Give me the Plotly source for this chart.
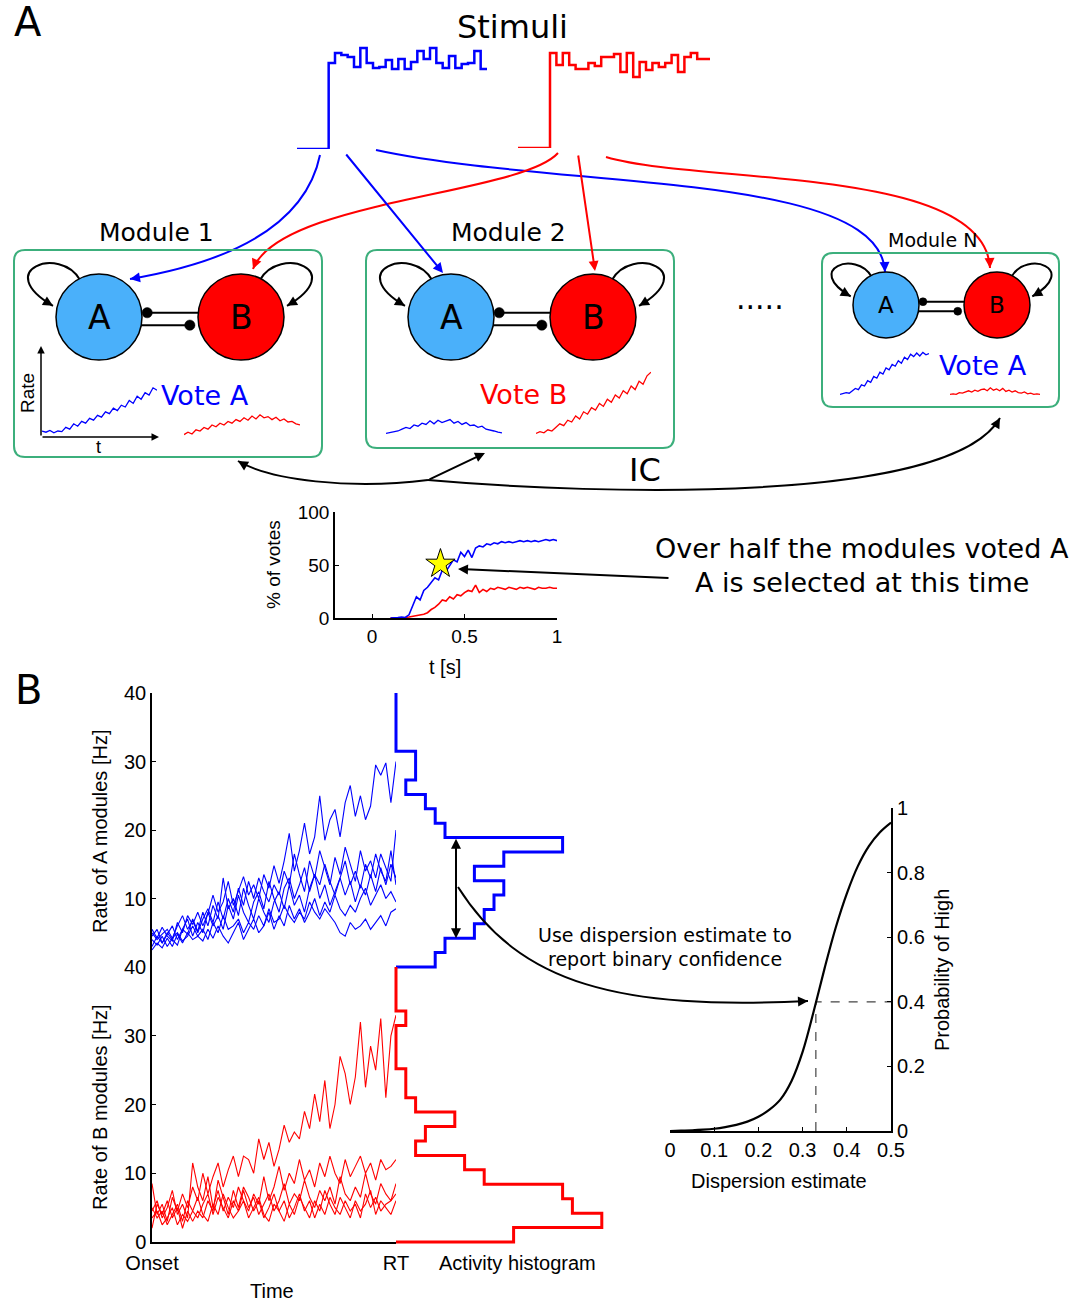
import numpy as np
import plotly.graph_objects as go

# ---------------- data ----------------
# stimulus intensities (arbitrary units), one value per time step after onset
stim_a_levels = [86, 96, 94, 92, 82, 101, 86, 81, 82, 89, 80, 90, 80, 87, 98, 90, 101, 86, 81, 93, 81, 85, 86, 98, 80]
stim_b_levels = [95, 83, 95, 83, 79, 79, 85, 82, 91, 91, 94, 76, 95, 71, 86, 78, 85, 81, 85, 93, 76, 91, 95, 89, 89]

# schematic module rate traces (arbitrary units)
m1_rate_a = [1.0, 0.8, 1.1, 0.7, 1.0, 0.9, 1.6, 1.3, 2.2, 1.8, 2.6, 2.3, 3.1, 2.8, 3.6, 3.3, 4.2, 3.9, 4.8, 4.4,
             5.3, 5.0, 6.1, 5.6, 6.8, 6.3, 7.4, 7.0, 8.2, 7.8]
m1_rate_b = [0.4, 0.8, 0.5, 1.2, 1.0, 1.6, 1.3, 2.0, 1.7, 2.3, 2.0, 2.6, 2.3, 2.9, 2.6, 3.2, 2.8, 3.5, 3.0, 3.7,
             3.2, 3.4, 2.9, 3.3, 2.7, 3.0, 2.5, 2.6, 2.2, 2.0]
m2_rate_a = [0.6, 0.7, 0.9, 1.0, 1.3, 1.6, 1.4, 2.0, 1.8, 2.3, 2.1, 2.7, 2.2, 2.8, 2.4, 2.6, 2.9, 2.3, 2.6, 2.1,
             2.4, 1.9, 2.0, 1.6, 1.8, 1.3, 1.2, 1.0, 0.8, 0.7]
m2_rate_b = [0.6, 0.9, 0.7, 1.2, 1.0, 1.6, 2.2, 1.9, 2.8, 2.5, 3.5, 3.0, 4.2, 3.8, 4.9, 4.5, 5.6, 5.1, 6.3, 5.8,
             7.0, 6.5, 7.7, 7.2, 8.5, 7.9, 9.3, 8.8, 10.2, 10.8]
mn_rate_a = [0.6, 0.7, 0.9, 0.8, 1.2, 1.6, 1.4, 2.2, 2.0, 2.9, 2.6, 3.6, 3.3, 4.3, 4.0, 5.0, 4.7, 5.6, 5.3, 6.2,
             5.8, 6.8, 6.4, 7.3, 6.9, 7.5, 7.0, 7.6, 7.2, 7.4]
mn_rate_b = [0.6, 0.7, 0.6, 0.9, 0.8, 1.0, 1.2, 1.0, 1.3, 1.1, 1.4, 1.5, 1.2, 1.7, 1.3, 1.5, 1.2, 1.6, 1.1, 1.3,
             1.0, 1.2, 0.9, 0.8, 1.0, 0.7, 0.8, 0.6, 0.7, 0.6]

# % of votes (t from 0.1 s to 1.0 s)
votes_a = [0, 0, 0.5, 1, 0.5, 3, 12, 20, 17, 26, 29, 33, 38, 36, 45, 44, 49, 55, 53, 62, 58, 64, 57, 66, 68,
           67, 70, 69, 71, 70, 72, 71, 72, 71, 72, 73, 72, 73, 72, 73, 72, 73, 74, 73, 74, 73]
votes_b = [0, 0, 0, 0, 0.5, 1, 1.5, 2, 3, 3.5, 5, 8, 10, 13, 17, 16, 20, 18, 22, 21, 24, 26, 25, 31, 24,
           27, 25, 28, 27, 29, 28, 27, 29, 28, 27, 29, 28, 29, 28, 27, 29, 28, 28, 29, 28, 28]
votes_t_start, votes_t_end = 0.1, 1.0
selection_time, selection_pct = 0.37, 51

# panel B: rates of A modules [Hz], Onset -> RT
rate_a1 = [5.5, 4.2, 5.8, 4.5, 3.8, 6.5, 5.0, 7.5, 6.2, 8.0, 6.0, 7.8, 10.5, 8.0, 9.5, 12.5, 9.0, 11.0, 13.2, 10.5,
           12.0, 10.0, 13.5, 11.5, 14.8, 12.2, 15.5, 19.5, 14.0, 17.0, 21.0, 16.5, 19.0, 25.0, 18.5, 21.5, 23.0,
           19.0, 24.0, 26.5, 22.0, 25.0, 21.5, 23.5, 29.5, 28.0, 29.8, 24.0, 30.0]
rate_a2 = [5.0, 4.0, 4.8, 5.5, 4.2, 6.0, 7.5, 5.5, 6.8, 5.0, 7.0, 8.5, 6.5, 9.5, 7.0, 10.0, 8.0, 11.5, 9.0, 12.5,
           10.0, 13.0, 11.0, 9.5, 12.0, 10.5, 14.0, 12.0, 16.5, 13.5, 11.0, 15.5, 13.0, 17.0, 14.5, 12.0, 16.0,
           13.5, 17.5, 15.0, 12.5, 17.0, 14.0, 15.5, 13.0, 16.5, 14.5, 12.5, 20.0]
rate_a3 = [4.5, 5.5, 3.5, 4.8, 6.0, 4.0, 5.5, 7.0, 4.5, 6.5, 5.0, 8.0, 6.0, 7.5, 5.5, 9.0, 7.0, 10.5, 8.0, 6.5,
           9.5, 11.0, 8.5, 12.5, 10.0, 8.0, 11.5, 13.0, 10.0, 12.0, 14.5, 11.0, 13.5, 12.0, 15.0, 12.5, 10.5,
           13.0, 15.5, 12.0, 14.0, 11.5, 15.0, 13.0, 16.5, 14.0, 12.5, 17.0, 12.0]
rate_a4 = [4.0, 3.2, 4.5, 3.0, 4.2, 5.0, 3.8, 4.5, 6.0, 4.5, 5.5, 4.0, 6.5, 5.0, 7.5, 5.5, 6.0, 7.0, 5.0, 6.5,
           5.5, 7.5, 6.0, 8.5, 6.5, 7.0, 9.0, 7.5, 6.5, 8.0, 7.0, 9.5, 8.0, 7.0, 8.5, 7.5, 6.5, 5.0, 4.5, 6.5,
           5.5, 6.0, 7.0, 5.5, 6.5, 7.5, 6.0, 8.0, 8.5]
rate_a5 = [3.0, 4.5, 3.5, 5.0, 4.0, 3.2, 5.5, 4.8, 7.0, 5.2, 8.0, 6.0, 9.0, 7.0, 13.0, 8.5, 10.0, 7.5, 11.5, 9.0,
           7.0, 10.0, 8.0, 6.5, 9.5, 11.0, 8.5, 12.0, 9.0, 10.5, 8.0, 11.5, 13.5, 10.0, 12.0, 9.0, 11.0, 13.0,
           10.5, 12.5, 9.5, 12.0, 10.5, 13.5, 11.0, 14.5, 12.0, 15.0, 13.0]
rate_a6 = [2.5, 3.5, 2.8, 4.2, 3.0, 4.8, 3.5, 5.0, 4.0, 4.5, 3.8, 5.5, 4.2, 6.0, 4.5, 3.5, 5.0, 6.5, 4.0, 5.5,
           7.0, 5.0, 6.0, 8.0, 5.5, 7.5, 6.0, 9.0, 7.0, 8.5, 6.5, 8.0, 10.0, 7.5, 9.5, 8.0, 10.5, 8.5, 7.5, 9.0,
           8.0, 10.0, 11.5, 9.0, 10.5, 12.0, 10.0, 11.0, 9.5]

# panel B: rates of B modules [Hz]
rate_b1 = [8.5, 4.0, 5.5, 3.0, 6.5, 4.5, 7.0, 5.0, 8.0, 6.0, 10.0, 7.0, 9.5, 11.5, 8.0, 10.5, 12.5, 9.5, 12.5,
           12.0, 10.0, 15.0, 12.0, 14.5, 11.0, 13.5, 17.0, 14.5, 16.0, 15.0, 19.0, 16.5, 21.5, 17.5, 23.5, 16.5,
           20.0, 27.0, 24.5, 20.0, 24.0, 32.0, 22.5, 28.5, 25.0, 32.5, 21.0, 30.0, 33.0]
rate_b2 = [4.5, 6.0, 3.5, 5.0, 7.5, 4.0, 5.5, 3.5, 11.5, 8.0, 6.0, 9.5, 5.0, 7.5, 4.5, 6.5, 5.0, 8.0, 6.0, 4.5,
           7.0, 5.5, 9.5, 6.0, 8.0, 11.0, 7.5, 10.0, 8.5, 12.0, 9.0, 10.5, 8.0, 11.5, 9.5, 12.5, 10.0, 8.5, 12.0,
           9.5, 11.0, 12.5, 10.0, 11.5, 9.0, 12.0, 10.5, 11.0, 12.0]
rate_b3 = [5.0, 3.5, 4.5, 2.5, 4.0, 5.5, 3.0, 6.0, 4.5, 3.5, 5.5, 7.0, 4.0, 6.5, 5.0, 3.5, 6.0, 4.5, 7.5, 5.0,
           6.5, 4.0, 5.5, 7.0, 4.5, 6.0, 8.5, 5.5, 7.0, 6.0, 9.0, 6.5, 5.0, 7.5, 6.0, 8.0, 5.5, 9.5, 7.0, 6.0,
           8.0, 6.5, 10.0, 7.0, 5.5, 8.5, 7.0, 6.0, 8.5]
rate_b4 = [3.5, 4.5, 2.5, 3.5, 5.0, 2.5, 4.0, 3.0, 4.5, 6.5, 4.0, 3.0, 5.5, 4.0, 7.0, 5.0, 3.5, 4.5, 6.0, 3.5,
           5.0, 6.5, 4.0, 3.0, 5.5, 4.5, 6.0, 3.5, 5.0, 7.0, 4.5, 6.0, 3.5, 5.5, 4.0, 6.5, 5.0, 4.0, 6.0, 4.5,
           5.5, 3.5, 7.0, 5.0, 6.5, 4.5, 5.5, 6.0, 7.0]
rate_b5 = [2.0, 5.5, 4.0, 6.0, 3.5, 5.0, 2.0, 4.5, 3.0, 4.5, 3.5, 6.0, 4.5, 9.0, 6.5, 4.0, 7.5, 5.0, 8.0, 6.5,
           4.5, 6.0, 3.5, 5.0, 7.0, 4.5, 3.0, 5.5, 4.0, 6.5, 5.0, 3.5, 6.0, 4.5, 7.5, 5.5, 4.0, 6.5, 5.0, 3.5,
           6.0, 4.5, 5.5, 7.5, 4.0, 6.0, 5.0, 4.0, 6.0]

# activity histograms at RT (counts per 2.1 Hz bin, from 0 Hz upward)
hist_bin_width = 2.1
hist_a_counts = [4, 5, 8, 9, 10, 11, 8, 11, 17, 5, 4, 3, 1, 2, 2, 0, 0, 0, 0]
hist_b_counts = [12, 21, 18, 17, 9, 7, 2, 3, 6, 2, 1, 1, 0, 0, 0, 1, 0, 0, 0]
hist_spread_low, hist_spread_high = 4.2, 18.9

# dispersion -> probability of "High" confidence
disp_x = [0, 0.025, 0.05, 0.075, 0.1, 0.125, 0.15, 0.175, 0.2, 0.225, 0.25, 0.275, 0.3, 0.325, 0.35, 0.375,
          0.4, 0.425, 0.45, 0.475, 0.5]
disp_y = [0, 0.001, 0.002, 0.004, 0.007, 0.012, 0.019, 0.029, 0.044, 0.066, 0.098, 0.155, 0.245, 0.37, 0.505,
          0.63, 0.735, 0.82, 0.882, 0.925, 0.955]
disp_example_x, disp_example_p = 0.33, 0.4

# ---------------- styling ----------------
W, H = 1086, 1301
DV = 'DejaVu Sans'
HV = 'Liberation Sans, Arial, sans-serif'
BLUE, RED = '#0000ff', '#ff0000'
NODE_A, NODE_B = '#4ab0fa', '#ff0000'
GREEN = '#3caf7c'

fig = go.Figure()
_count = [0]


def make_axes(left, right, top, bottom, xr, yr, xstyle=None, ystyle=None):
    _count[0] += 1
    i = _count[0]
    s = '' if i == 1 else str(i)
    xa = dict(domain=[max(0, left / W), min(1, right / W)], range=list(xr), anchor='y' + s,
              visible=False, fixedrange=True, showgrid=False, zeroline=False, automargin=False)
    ya = dict(domain=[max(0, 1 - bottom / H), min(1, 1 - top / H)], range=list(yr), anchor='x' + s,
              visible=False, fixedrange=True, showgrid=False, zeroline=False, automargin=False)
    if xstyle is not None:
        xa.update(visible=True)
        xa.update(xstyle)
    if ystyle is not None:
        ya.update(visible=True)
        ya.update(ystyle)
    fig.update_layout({'xaxis' + s: xa, 'yaxis' + s: ya})
    return 'x' + s, 'y' + s


def axstyle(size, **kw):
    d = dict(showline=True, linecolor='black', linewidth=1.5, ticks='inside', ticklen=4, tickwidth=1,
             tickcolor='black', showgrid=False, zeroline=False,
             tickfont=dict(family=HV, size=size, color='black'))
    d.update(kw)
    return d


def line(xa, ya, x, y, color, width, smoothing=None, **kw):
    ln = dict(color=color, width=width, **kw)
    if smoothing is not None:
        ln['smoothing'] = smoothing
    fig.add_trace(go.Scatter(x=list(x), y=list(y), xaxis=xa, yaxis=ya, mode='lines',
                             line=ln, hoverinfo='skip', showlegend=False))


# canvas for the schematic (pixel units)
CX, CY = make_axes(0, W, 0, H, [0, W], [H, 0])


def text(x, y, s, size, color='black', family=DV, angle=0, xanchor='center'):
    fig.add_annotation(x=x, y=y, xref=CX, yref=CY, text=s, showarrow=False,
                       font=dict(family=family, size=size, color=color), textangle=angle,
                       xanchor=xanchor, yanchor='middle')


def arrow(tx, ty, hx, hy, color='black', width=2, size=1.0, side='end', head=2):
    fig.add_annotation(x=hx, y=hy, ax=tx, ay=ty, xref=CX, yref=CY, axref=CX, ayref=CY, text='',
                       showarrow=True, arrowhead=head, startarrowhead=head, arrowsize=size,
                       startarrowsize=size, arrowwidth=width, arrowcolor=color, arrowside=side,
                       standoff=0, startstandoff=0)


def curve(p, color, width=2, head=True, hsize=1.0):
    (x0, y0), (x1, y1), (x2, y2), (x3, y3) = p
    fig.add_shape(type='path', path=f'M {x0},{y0} C {x1},{y1} {x2},{y2} {x3},{y3}',
                  xref=CX, yref=CY, line=dict(color=color, width=width))
    if head:
        dx, dy = x3 - x2, y3 - y2
        L = (dx * dx + dy * dy) ** 0.5
        arrow(x3 - 6 * dx / L, y3 - 6 * dy / L, x3, y3, color, width, hsize)


def rrect(x0, y0, x1, y1, r, color, width):
    d = (f'M {x0 + r},{y0} L {x1 - r},{y0} Q {x1},{y0} {x1},{y0 + r} L {x1},{y1 - r} '
         f'Q {x1},{y1} {x1 - r},{y1} L {x0 + r},{y1} Q {x0},{y1} {x0},{y1 - r} '
         f'L {x0},{y0 + r} Q {x0},{y0} {x0 + r},{y0} Z')
    fig.add_shape(type='path', path=d, xref=CX, yref=CY, line=dict(color=color, width=width))


def circle(cx, cy, r, fill, lw=1.5):
    fig.add_shape(type='circle', x0=cx - r, x1=cx + r, y0=cy - r, y1=cy + r, xref=CX, yref=CY,
                  fillcolor=fill, line=dict(color='black', width=lw))


# ---------------- panel A: stimuli ----------------
text(28, 22, 'A', 40)
text(512, 27, 'Stimuli', 32)
steps = list(range(len(stim_a_levels) + 1))
sx, sy = make_axes(297, 487, 30, 149, [-5, len(stim_a_levels)], [0, 119])
line(sx, sy, [-5] + steps, [0] + stim_a_levels + stim_a_levels[-1:], BLUE, 2.5, shape='hv')
sx, sy = make_axes(518, 710, 30, 148, [-5, len(stim_b_levels)], [0, 118])
line(sx, sy, [-5] + steps, [0] + stim_b_levels + stim_b_levels[-1:], RED, 2.5, shape='hv')

# stimulus -> module connections
curve([(320, 155), (307, 218), (243, 260), (130, 279)], BLUE)
arrow(345, 153, 443, 273, BLUE)
curve([(376, 150), (560, 190), (880, 170), (885, 272)], BLUE)
curve([(558, 153), (520, 195), (280, 200), (253, 269)], RED)
arrow(578, 154, 595, 271, RED)
curve([(606, 157), (700, 185), (985, 165), (990, 268)], RED)

# ---------------- modules ----------------
modules = [
    dict(box=(14, 250, 322, 457), title='Module 1', txy=(156, 232), ts=25, a=(99, 317), b=(241, 317), r=43,
         ls=33, vote='Vote A', vc=BLUE, vxy=(205, 395), rates=(m1_rate_a, m1_rate_b),
         tbox=((42, 157), (184, 300)), tbase=437),
    dict(box=(366, 250, 674, 448), title='Module 2', txy=(508, 232), ts=25, a=(451, 317), b=(593, 317), r=43,
         ls=33, vote='Vote B', vc=RED, vxy=(523, 394), rates=(m2_rate_a, m2_rate_b),
         tbox=((386, 502), (536, 651)), tbase=437),
    dict(box=(822, 253, 1059, 407), title='Module N', txy=(932, 240), ts=19, a=(886, 305), b=(997, 305), r=33,
         ls=23, vote='Vote A', vc=BLUE, vxy=(983, 365), rates=(mn_rate_a, mn_rate_b),
         tbox=((840, 929), (950, 1040)), tbase=398),
]

for m in modules:
    x0, y0, x1, y1 = m['box']
    rrect(x0, y0, x1, y1, 11, GREEN, 2)
    text(*m['txy'], m['title'], m['ts'])
    r = m['r']
    for (cx, cy), s in ((m['a'], -1), (m['b'], 1)):
        p0 = (cx + s * 0.44 * r, cy - 0.86 * r)
        c1 = (cx + s * 0.9 * r, cy - 1.67 * r)
        c2 = (cx + s * 2.5 * r, cy - 1.1 * r)
        p3 = (cx + s * 1.07 * r, cy - 0.26 * r)
        curve([p0, c1, c2, p3], 'black', 2, hsize=1.0)
    (ax_, ay_), (bx_, by_) = m['a'], m['b']
    # mutual inhibition
    yu, yl = ay_ - 0.1 * r, ay_ + 0.19 * r
    dot = 0.12 * r
    fig.add_shape(type='line', x0=ax_ + r + dot, x1=bx_ - r, y0=yu, y1=yu, xref=CX, yref=CY,
                  line=dict(color='black', width=2))
    fig.add_shape(type='line', x0=ax_ + r - 1, x1=bx_ - r - 0.19 * r, y0=yl, y1=yl, xref=CX, yref=CY,
                  line=dict(color='black', width=2))
    circle(ax_, ay_, r, NODE_A)
    circle(bx_, by_, r, NODE_B)
    circle(ax_ + r + dot, yu, dot, 'black', 0.5)
    circle(bx_ - r - 0.19 * r, yl, dot, 'black', 0.5)
    text(ax_, ay_, 'A', m['ls'])
    text(bx_, by_, 'B', m['ls'])
    text(*m['vxy'], m['vote'], 27, m['vc'])
    for (l_, r_), vals, col in zip(m['tbox'], m['rates'], (BLUE, RED)):
        mx, my = make_axes(l_, r_, m['tbase'] - 72, m['tbase'], [0, 1], [0, 12])
        line(mx, my, np.linspace(0, 1, len(vals)), vals, col, 1.3)

# schematic axes in module 1
arrow(41, 437, 41, 346, 'black', 1.5, 1.0)
arrow(41, 437, 159, 437, 'black', 1.5, 1.0)
text(27, 393, 'Rate', 19, angle=-90, family=HV)
text(98, 447, 't', 18, family=HV)
text(760, 298, '.....', 30)

# interconnections
curve([(428, 480), (350, 490), (270, 480), (238, 461)], 'black', 2)
arrow(428, 480, 485, 453, 'black', 2)
curve([(428, 480), (600, 495), (950, 505), (1000, 418)], 'black', 2)
text(645, 470, 'IC', 32)

# ---------------- votes plot ----------------
vx, vy = make_axes(335, 557, 512, 618, [-0.2, 1], [0, 100],
                   xstyle=axstyle(19, tickvals=[0, 0.5, 1], ticktext=['0', '0.5', '1']),
                   ystyle=axstyle(19, tickvals=[0, 50, 100]))
vt = np.linspace(votes_t_start, votes_t_end, len(votes_a))
line(vx, vy, vt, votes_b, RED, 1.6)
line(vx, vy, vt, votes_a, BLUE, 1.6)
fig.add_trace(go.Scatter(x=[selection_time], y=[selection_pct], xaxis=vx, yaxis=vy, mode='markers',
                         marker=dict(symbol='star', size=22, color='#ffff00', line=dict(color='black', width=1)),
                         hoverinfo='skip', showlegend=False, cliponaxis=False))
text(273, 565, '% of votes', 19, angle=-90, family=HV)
text(445, 667, 't [s]', 20, family=HV)
arrow(670, 578, 458, 569, 'black', 2)
text(862, 548, 'Over half the modules voted A', 27)
text(862, 582, 'A is selected at this time', 27)

# ---------------- panel B ----------------
text(28, 690, 'B', 40)
rax, ray = make_axes(152, 396, 693, 967, [0, 1], [0, 40],
                     ystyle=axstyle(20, tickvals=[10, 20, 30, 40]))
for tr in (rate_a4, rate_a6, rate_a5, rate_a3, rate_a2, rate_a1):
    line(rax, ray, np.linspace(0, 1, len(tr)), tr, BLUE, 1.1)
rbx, rby = make_axes(152, 396, 967, 1242, [0, 1], [0, 40],
                     xstyle=axstyle(20, tickvals=[0, 1], ticktext=['Onset', 'RT'], ticks='', linewidth=2,
                                    ticklabelstandoff=2),
                     ystyle=axstyle(20, tickvals=[0, 10, 20, 30, 40]))
for tr in (rate_b5, rate_b4, rate_b3, rate_b2, rate_b1):
    line(rbx, rby, np.linspace(0, 1, len(tr)), tr, RED, 1.1)


def hist_outline(counts, top):
    edges = [k * hist_bin_width for k in range(len(counts) + 1)]
    xs, ys = [0], [top]
    for k in range(len(counts) - 1, -1, -1):
        xs += [counts[k], counts[k]]
        ys += [edges[k + 1], edges[k]]
    xs.append(0)
    ys.append(0)
    return xs, ys


CNT = 9.8  # px per count
hx, hy = make_axes(396 - 0.3 * CNT, 615, 691, 969, [-0.3, (615 - 396) / CNT], [-2 / 6.86, 40 + 2 / 6.86])
xs, ys = hist_outline(hist_a_counts, 40)
line(hx, hy, xs, ys, BLUE, 3)
hx2, hy2 = make_axes(396 - 0.3 * CNT, 615, 965, 1244, [-0.3, (615 - 396) / CNT], [-2 / 6.875, 40 + 2 / 6.875])
xs, ys = hist_outline(hist_b_counts, 40)
line(hx2, hy2, xs, ys, RED, 3)

arrow(456, 967 - hist_spread_high * 6.86, 456, 967 - hist_spread_low * 6.86, 'black', 2, 1.0, side='end+start')
curve([(458, 887), (520, 985), (620, 1010), (808, 1001)], 'black', 2)
text(665, 935, 'Use dispersion estimate to', 19)
text(665, 959, 'report binary confidence', 19)

text(100, 832, 'Rate of A modules [Hz]', 20, angle=-90, family=HV)
text(100, 1107, 'Rate of B modules [Hz]', 20, angle=-90, family=HV)
text(272, 1291, 'Time', 20, family=HV)
text(517, 1263, 'Activity histogram', 20, family=HV)

# ---------------- dispersion plot ----------------
dx_, dy_ = make_axes(670, 891, 808, 1131, [0, 0.5], [0, 1],
                     xstyle=axstyle(20, tickvals=[0, 0.1, 0.2, 0.3, 0.4, 0.5],
                                    ticktext=['0', '0.1', '0.2', '0.3', '0.4', '0.5'], linewidth=2),
                     ystyle=axstyle(20, side='right', tickvals=[0, 0.2, 0.4, 0.6, 0.8, 1],
                                    ticktext=['0', '0.2', '0.4', '0.6', '0.8', '1'], linewidth=2))
line(dx_, dy_, [disp_example_x, disp_example_x, 0.5], [0, disp_example_p, disp_example_p], '#444444', 1.2,
     dash='dash')
line(dx_, dy_, disp_x, disp_y, 'black', 2.2, smoothing=1.0, shape='spline')
text(779, 1181, 'Dispersion estimate', 20, family=HV)
text(942, 970, 'Probability of High', 20, angle=-90, family=HV)

fig.update_layout(width=W, height=H, margin=dict(l=0, r=0, t=0, b=0, pad=0, autoexpand=False),
                  paper_bgcolor='white', plot_bgcolor='rgba(0,0,0,0)', showlegend=False, hovermode=False)
fig.write_html('out.html', config={'displayModeBar': False},
               post_script="document.body.style.margin='0px';document.body.style.overflow='hidden';")
